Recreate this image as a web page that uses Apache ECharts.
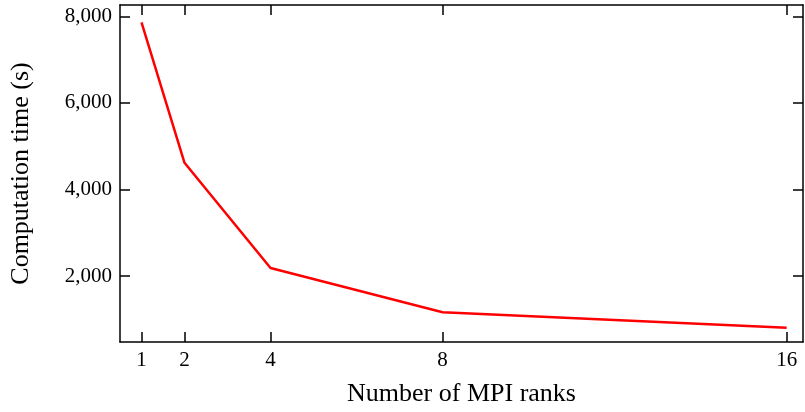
<!DOCTYPE html>
<html>
<head>
<meta charset="utf-8">
<script src="https://cdn.jsdelivr.net/npm/echarts@6/dist/echarts.min.js"></script>
<style>
  html, body { margin: 0; padding: 0; background: #fff; }
  #chart { width: 805px; height: 412px; }
</style>
</head>
<body>
<div id="chart"></div>
<script>
// MPI scaling
const ranks = [1, 2, 4, 8, 16]
const times = [7860, 4615, 2185, 1165, 805]
const yTicks = [2000, 4000, 6000, 8000]

const font = 'Liberation Serif'
const chart = echarts.init(document.getElementById('chart'))

const lineStyle = { color: '#000', width: 1.5 }
const tick = { show: true, inside: true, length: 10, lineStyle: lineStyle }

const option = {
  animation: false,
  grid: { left: 120, right: 2, top: 5, bottom: 69 },
  xAxis: [
    {
      type: 'value',
      min: 0.5,
      max: 16.38,
      name: 'Number of MPI ranks',
      nameLocation: 'middle',
      nameGap: 39,
      nameTextStyle: { fontFamily: font, fontSize: 26, color: '#000' },
      axisLine: { show: true, lineStyle: lineStyle },
      axisTick: Object.assign({ customValues: ranks }, tick),
      axisLabel: { customValues: ranks, fontFamily: font, fontSize: 21, color: '#000', margin: 8 },
      splitLine: { show: false },
    },
    {
      type: 'value',
      position: 'top',
      min: 0.5,
      max: 16.38,
      axisLine: { show: true, lineStyle: lineStyle },
      axisTick: Object.assign({ customValues: ranks }, tick),
      axisLabel: { show: false },
      splitLine: { show: false },
    },
  ],
  yAxis: [
    {
      type: 'value',
      min: 476,
      max: 8260,
      name: 'Computation time (s)',
      nameLocation: 'middle',
      nameGap: 86,
      nameTextStyle: { fontFamily: font, fontSize: 26, color: '#000' },
      axisLine: { show: true, lineStyle: lineStyle },
      axisTick: Object.assign({ customValues: yTicks }, tick),
      axisLabel: {
        customValues: yTicks,
        fontFamily: font,
        fontSize: 21,
        color: '#000',
        margin: 8,
        formatter: (v) => v.toLocaleString('en-US'),
      },
      splitLine: { show: false },
    },
    {
      type: 'value',
      position: 'right',
      min: 476,
      max: 8260,
      axisLine: { show: true, lineStyle: lineStyle },
      axisTick: Object.assign({ customValues: yTicks }, tick),
      axisLabel: { show: false },
      splitLine: { show: false },
    },
  ],
  series: [
    {
      type: 'line',
      data: ranks.map((r, i) => [r, times[i]]),
      showSymbol: false,
      lineStyle: { color: '#ff0000', width: 2.5 },
    },
  ],
}

chart.setOption(option)
</script>
</body>
</html>
